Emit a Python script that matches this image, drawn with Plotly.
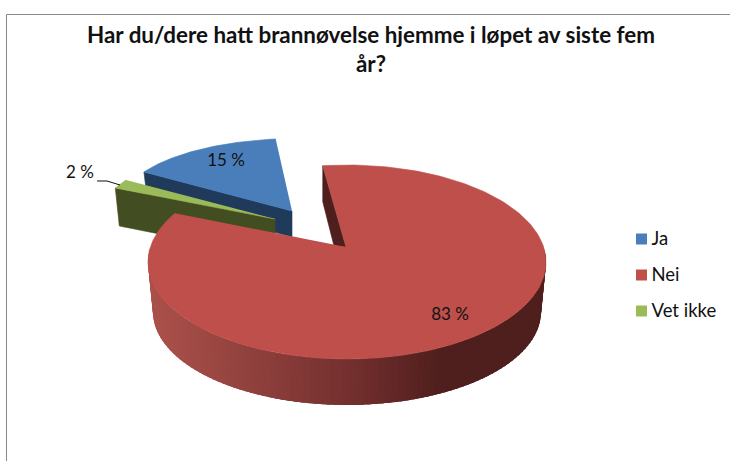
import numpy as np
import plotly.graph_objects as go

# ---- data ----
categories = ["Ja", "Nei", "Vet ikke"]
values = [15, 83, 2]
title_lines = ["Har du/dere hatt brannøvelse hjemme i løpet av siste fem", "år?"]

# ---- styling / projection of the tilted, exploded pie ----
top_colors = {"Ja": "#4A7EBB", "Nei": "#BE4F4B", "Vet ikke": "#9BBB59"}
side_colors = {"Ja": "#1F3A5A", "Nei": "#4F1F1D", "Vet ikke": "#434D22"}
FONT = "Lato, Carlito, Calibri, sans-serif"
first_angle = -61.0            # clockwise from 12 o'clock, in projected ellipse
front_stretch = 1.028          # perspective widens the slice nearest the viewer

# ellipse of each slice's top face (cx, cy, rx, ry), and pie apex after explosion
proj = {
    "Ja": dict(e=(297, 203.5, 175, 65), apex=(292, 211), depth=26),
    "Nei": dict(e=(347, 262, 199, 97), apex=(346, 247), depth=46),
    "Vet ikke": dict(e=(301, 214, 200, 70), apex=(275, 219), depth=38),
}
nei_floor = (347, 312, 194, 93)


def arc(e, t0, t1, n=120):
    t = np.radians(np.linspace(t0, t1, n))
    return e[0] + e[2] * np.sin(t), e[1] - e[3] * np.cos(t)


# angle spans derived from the values; the last slice closes the circle before the first
spans = {}
a = first_angle
for c, v in zip(categories, values):
    if c == "Vet ikke":
        spans[c] = (first_angle - v * 3.6, first_angle)
        continue
    sweep = v * 3.6 * (front_stretch if c == "Nei" else 1)
    spans[c] = (a, a + sweep)
    a += sweep

fig = go.Figure()


def poly(xs, ys, color, lw=0.6):
    fig.add_trace(go.Scatter(x=list(xs), y=list(ys), mode="lines", fill="toself",
                             fillcolor=color, line=dict(color=color, width=lw),
                             hoverinfo="skip", showlegend=False))


# Ja: wall then top
p = proj["Ja"]
x0, y0 = [q[0] for q in arc(p["e"], spans["Ja"][0], spans["Ja"][0], 1)]
ax, ay = p["apex"]
poly([x0, ax, ax, x0 + 3, x0], [y0, ay, ay + p["depth"], y0 + 25, y0], side_colors["Ja"])
xs, ys = arc(p["e"], *spans["Ja"])
poly([ax, *xs], [ay, *ys], top_colors["Ja"])

# Vet ikke: wall then top
p = proj["Vet ikke"]
x0, y0 = [q[0] for q in arc(p["e"], spans["Vet ikke"][0], spans["Vet ikke"][0], 1)]
ax, ay = p["apex"]
poly([x0, ax, ax, x0 + 4, x0], [y0, ay, ay + p["depth"], y0 + p["depth"], y0], side_colors["Vet ikke"])
xs, ys = arc(p["e"], *spans["Vet ikke"])
poly([ax, *xs], [ay, *ys], top_colors["Vet ikke"])

# Nei: inner wall
p = proj["Nei"]
x0, y0 = [q[0] for q in arc(p["e"], spans["Nei"][0], spans["Nei"][0], 1)]
ax, ay = p["apex"]
poly([x0, ax, ax - 12, x0, x0], [y0, ay, ay - 1, y0 + 36, y0], side_colors["Nei"])

# Nei: shaded rim, drawn as overlapping narrow strips so that no seams show
stops_x = [153, 347, 430, 546]
stops_r = [170, 112, 79, 79]
stops_g = [80, 46, 31, 31]
stops_b = [74, 45, 29, 29]
edges = np.arange(84, 280, 2.0)
e_top = p["e"]
for t0, t1 in zip(edges[:-1], edges[1:]):
    xt, yt = arc(e_top, t0 - 3, t1, 4)
    xb, yb = arc(nei_floor, t0 - 3, t1, 4)
    xm = arc(e_top, t1, t1, 1)[0][0]
    col = "rgb(%d,%d,%d)" % (np.interp(xm, stops_x, stops_r),
                             np.interp(xm, stops_x, stops_g),
                             np.interp(xm, stops_x, stops_b))
    poly([*xt, *xb[::-1]], [*yt, *yb[::-1]], col, lw=0)

# Nei: top face
xs, ys = arc(e_top, *spans["Nei"], 240)
poly([ax, *xs], [ay, *ys], top_colors["Nei"])

# Data labels
label_pos = {"Ja": (226, 162), "Nei": (450, 316), "Vet ikke": (80, 174)}
for c, v in zip(categories, values):
    fig.add_trace(go.Scatter(x=[label_pos[c][0]], y=[label_pos[c][1]], mode="text",
                             text=[f"{v} %"], textposition="middle center",
                             textfont=dict(family=FONT, size=17, color="#111111"),
                             hoverinfo="skip", showlegend=False))

# Leader line for the smallest slice
fig.add_trace(go.Scatter(x=[97, 107, 120], y=[181, 181, 185], mode="lines",
                         line=dict(color="#111111", width=1), hoverinfo="skip", showlegend=False))

# Legend
legend_x = 641.5
legend_text_x = 651.5
legend_y = [239, 275, 311]
for c, ly in zip(categories, legend_y):
    fig.add_trace(go.Scatter(x=[legend_x], y=[ly], mode="markers",
                             marker=dict(symbol="square", size=11, color=top_colors[c]),
                             name=c, showlegend=False))
    fig.add_trace(go.Scatter(x=[legend_text_x], y=[ly + 1], mode="text",
                             text=[c], textposition="middle right",
                             textfont=dict(family=FONT, size=18.5, color="#111111"),
                             name=c, showlegend=False, hoverinfo="skip"))

fig.update_layout(
    width=730, height=461, margin=dict(l=0, r=0, t=0, b=0),
    paper_bgcolor="white", plot_bgcolor="white", showlegend=False,
    xaxis=dict(range=[0, 730], visible=False, fixedrange=True),
    yaxis=dict(range=[461, 0], visible=False, fixedrange=True),
    title=dict(text="<b>" + "<br>".join(title_lines) + "</b>", x=371 / 730, xanchor="center",
               y=1 - 43 / 461, yanchor="top",
               font=dict(family=FONT, size=22.4, color="#111111")),
    shapes=[dict(type="line", xref="paper", yref="paper", x0=6.5 / 730, x1=1, y0=1 - 14.5 / 461, y1=1 - 14.5 / 461,
                 line=dict(color="#888888", width=1)),
            dict(type="line", xref="paper", yref="paper", x0=6.5 / 730, x1=6.5 / 730, y0=0, y1=1 - 14.5 / 461,
                 line=dict(color="#888888", width=1))],
)

fig.write_html("out.html", config={"displayModeBar": False},
               post_script="document.body.style.margin='0';document.body.style.overflow='hidden';")
